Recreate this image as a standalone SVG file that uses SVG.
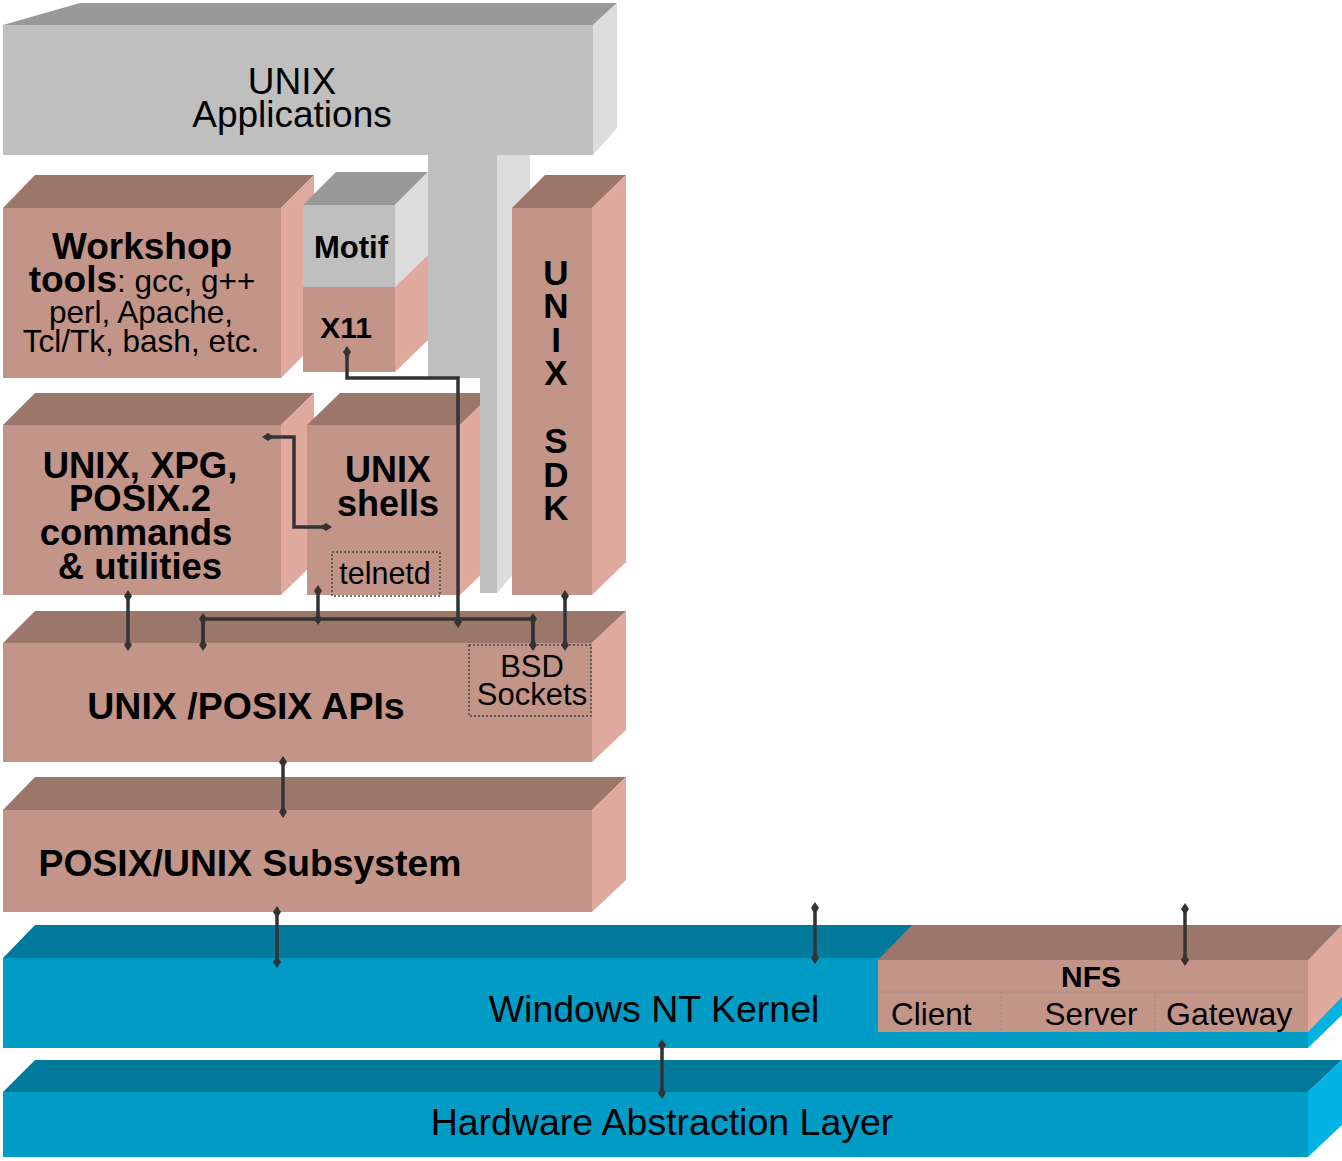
<svg xmlns="http://www.w3.org/2000/svg" width="1342" height="1161" viewBox="0 0 1342 1161">
<defs>
<style>
.pf{fill:#c39488}.pt{fill:#9a766b}.ps{fill:#e0a99d}
.gf{fill:#bfbfbf}.gt{fill:#999999}.gs{fill:#dcdcdc}
.bf{fill:#009cc6}.bt{fill:#00799a}.bs{fill:#00b3e3}
text{font-family:"Liberation Sans",Arial,sans-serif;fill:#000}
.b{font-weight:bold}
.c{text-anchor:middle}
.dot{fill:none;stroke:#444;stroke-width:1.5;stroke-dasharray:2,2}
.dl{fill:none;stroke:#9a8a86;stroke-width:1;stroke-dasharray:2,2}
.con{fill:none;stroke:#333;stroke-width:3.5;marker-start:url(#dm);marker-end:url(#dm)}
.con2{fill:none;stroke:#333;stroke-width:3.5}
</style>
<marker id="dm" markerUnits="userSpaceOnUse" viewBox="-7 -5 14 10" markerWidth="14" markerHeight="10" refX="0" refY="0" orient="auto">
<path d="M-6,0 L0,-4 L6,0 L0,4 Z" fill="#333"/>
</marker>
</defs>

<g id="workshop">
<polygon class="pt" points="3,208 35,175 314,175 281,208"/>
<polygon class="ps" points="281,208 314,175 314,345 281,378"/>
<rect class="pf" x="3" y="208" width="278" height="170"/>
<text class="c b" x="142" y="259" font-size="37">Workshop</text>
<text class="c" x="142" y="292" font-size="31.5"><tspan class="b" font-size="37">tools</tspan>: gcc, g++</text>
<text class="c" x="141" y="323" font-size="31.5">perl, Apache,</text>
<text class="c" x="141" y="352" font-size="31.5">Tcl/Tk, bash, etc.</text>
</g>

<g id="motif">
<polygon class="gt" points="303,205 336,172 428,172 395,205"/>
<polygon class="gs" points="395,205 428,172 428,255 395,287"/>
<rect class="gf" x="303" y="205" width="92" height="82"/>
<text class="c b" x="351" y="258" font-size="31">Motif</text>
</g>

<g id="x11">
<polygon class="ps" points="395,287 428,255 428,340 395,372"/>
<rect class="pf" x="303" y="287" width="92" height="85"/>
<text class="c b" x="346" y="338" font-size="30">X11</text>
</g>

<g id="xpg">
<polygon class="pt" points="3,425 35,393 314,393 281,425"/>
<polygon class="ps" points="281,425 314,393 314,563 281,595"/>
<rect class="pf" x="3" y="425" width="278" height="170"/>
<text class="c b" font-size="36.5"><tspan x="140" y="478">UNIX, XPG,</tspan><tspan x="140" y="511">POSIX.2</tspan><tspan x="136" y="545">commands</tspan><tspan x="140" y="579">&amp; utilities</tspan></text>
</g>

<g id="shells">
<polygon class="pt" points="307,425 340,393 493,393 460,425"/>
<polygon class="ps" points="460,425 493,393 493,563 460,595"/>
<rect class="pf" x="307" y="425" width="153" height="170"/>
<text class="c b" font-size="36"><tspan x="388" y="482">UNIX</tspan><tspan x="388" y="516">shells</tspan></text>
<rect class="dot" x="332" y="552" width="108" height="44"/>
<text class="c" x="385" y="584" font-size="30.5">telnetd</text>
</g>

<g id="stem">
<polygon class="gs" points="497,155 530,118 530,555 497,593"/>
<polygon class="gf" points="428,150 497,150 497,593 480,593 480,378 428,378"/>
</g>

<g id="apps">
<polygon class="gt" points="3,25 80,3 617,3 593,25"/>
<polygon class="gs" points="593,25 617,3 617,128 593,155"/>
<rect class="gf" x="3" y="25" width="590" height="130"/>
<text class="c" font-size="37"><tspan x="292" y="94">UNIX</tspan><tspan x="292" y="127">Applications</tspan></text>
</g>

<g id="sdk">
<polygon class="pt" points="512,208 545,175 626,175 592,208"/>
<polygon class="ps" points="592,208 626,175 626,562 592,595"/>
<rect class="pf" x="512" y="208" width="80" height="387"/>
<text class="c b" font-size="35"><tspan x="556" y="285">U</tspan><tspan x="556" y="318">N</tspan><tspan x="556" y="352">I</tspan><tspan x="556" y="385">X</tspan><tspan x="556" y="453">S</tspan><tspan x="556" y="487">D</tspan><tspan x="556" y="520">K</tspan></text>
</g>

<g id="apis">
<polygon class="pt" points="3,643 35,611 626,611 592,643"/>
<polygon class="ps" points="592,643 626,611 626,730 592,762"/>
<rect class="pf" x="3" y="643" width="589" height="119"/>
<text class="c b" x="246" y="719" font-size="37.5">UNIX /POSIX APIs</text>
<rect class="dot" x="469" y="645" width="122" height="71"/>
<text class="c" font-size="31"><tspan x="532" y="677">BSD</tspan><tspan x="532" y="705">Sockets</tspan></text>
</g>

<g id="subsystem">
<polygon class="pt" points="3,810 35,777 626,777 592,810"/>
<polygon class="ps" points="592,810 626,777 626,880 592,912"/>
<rect class="pf" x="3" y="810" width="589" height="102"/>
<text class="c b" x="250" y="876" font-size="37.3">POSIX/UNIX Subsystem</text>
</g>

<g id="ntkernel">
<polygon class="bt" points="3,958 35,925 1342,925 1308,958"/>
<polygon class="bs" points="1308,958 1342,925 1342,1015 1308,1048"/>
<rect class="bf" x="3" y="958" width="1305" height="90"/>
<text class="c" x="654" y="1022" font-size="37.5">Windows NT Kernel</text>
</g>

<g id="nfs">
<polygon class="pt" points="878,960 912,925 1342,925 1308,960"/>
<polygon class="ps" points="1308,960 1342,925 1342,997 1308,1032"/>
<rect class="pf" x="878" y="960" width="430" height="72"/>
<text class="c b" x="1091" y="987" font-size="30">NFS</text>
<line class="dl" x1="878" y1="992" x2="1308" y2="992"/>
<line class="dl" x1="1001" y1="992" x2="1001" y2="1032"/>
<line class="dl" x1="1155" y1="992" x2="1155" y2="1032"/>
<text x="891" y="1025" font-size="31.5">Client</text>
<text class="c" x="1091" y="1025" font-size="31.5">Server</text>
<text x="1166" y="1025" font-size="32">Gateway</text>
</g>

<g id="hal">
<polygon class="bt" points="3,1092 35,1060 1342,1060 1308,1092"/>
<polygon class="bs" points="1308,1092 1342,1060 1342,1125 1308,1157"/>
<rect class="bf" x="3" y="1092" width="1305" height="65"/>
<text class="c" x="662" y="1135" font-size="37.5">Hardware Abstraction Layer</text>
</g>

<g id="connectors">
<path class="con" d="M347,352 V378 H458 V622"/>
<path class="con" d="M268,437 H294 V527 H326"/>
<path class="con" d="M128,596 V645"/>
<path class="con" d="M318,591 V619"/>
<path class="con2" d="M203,645 V619 H533 V645"/>
<path class="con" d="M203,619 V645"/>
<path class="con" d="M533,619 V645"/>
<path class="con" d="M565,596 V645"/>
<path class="con" d="M283,762 V812"/>
<path class="con" d="M277,912 V962"/>
<path class="con" d="M815,908 V958"/>
<path class="con" d="M1185,909 V960"/>
<path class="con" d="M662,1045 V1093"/>
</g>
</svg>
